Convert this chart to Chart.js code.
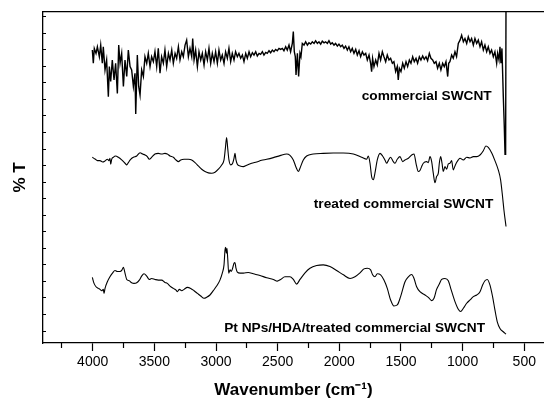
<!DOCTYPE html>
<html><head><meta charset="utf-8">
<script src="https://cdn.jsdelivr.net/npm/chart.js@4/dist/chart.umd.min.js"></script>
<style>html,body{margin:0;padding:0;background:#fff}canvas{display:block}</style>
</head><body>
<canvas id="c" width="544" height="402"></canvas>
<script>
const majorTicks = [500,1000,1500,2000,2500,3000,3500,4000];
const minorTicks = [750,1250,1750,2250,2750,3250,3750,4250];
const yTicks = [3.6,8.6,13.6,18.6,23.6,28.6,33.6,38.6,43.6,48.6,53.6,58.6,63.6,68.6,73.6,78.6,83.6,88.6,93.6,98.6];

const commercial = [[4003,88.5],[3995,84.5],[3987,89.0],[3973,87.5],[3962,89.5],[3946,86.5],[3935,90.0],[3922,84.5],[3914,89.5],[3900,82.5],[3887,85.5],[3873,74.4],[3865,83.5],[3854,79.0],[3841,85.5],[3827,79.5],[3814,84.5],[3800,75.4],[3789,90.0],[3778,84.5],[3765,87.5],[3751,77.5],[3738,85.5],[3724,80.5],[3711,88.5],[3697,83.5],[3684,82.5],[3670,77.5],[3657,81.5],[3651,69.2],[3638,87.0],[3627,77.5],[3616,74.9],[3603,82.5],[3589,80.5],[3576,86.5],[3562,84.5],[3549,87.5],[3535,83.5],[3522,86.5],[3508,85.0],[3495,88.0],[3481,83.5],[3468,89.0],[3454,81.5],[3441,86.5],[3427,84.5],[3414,88.5],[3400,83.5],[3386,87.5],[3373,85.5],[3359,88.5],[3346,84.5],[3332,87.5],[3319,86.0],[3305,89.5],[3292,85.5],[3278,88.0],[3265,86.5],[3251,90.0],[3238,91.5],[3224,86.5],[3211,89.0],[3197,86.5],[3189,92.0],[3178,85.5],[3165,88.5],[3151,83.5],[3138,88.0],[3124,85.5],[3111,87.5],[3097,84.0],[3084,88.0],[3070,85.5],[3057,89.0],[3043,84.5],[3030,87.5],[3016,85.0],[3003,88.0],[2989,84.5],[2976,88.5],[2962,85.5],[2949,87.0],[2935,84.5],[2922,88.0],[2908,86.0],[2895,89.0],[2881,85.0],[2868,87.5],[2854,85.5],[2841,88.0],[2827,86.5],[2814,87.5],[2800,86.0],[2786,87.0],[2773,85.0],[2759,87.5],[2746,86.0],[2732,88.0],[2719,86.5],[2705,87.7],[2692,87.0],[2678,88.0],[2665,86.7],[2651,87.5],[2638,87.2],[2624,88.0],[2611,87.0],[2597,87.8],[2584,87.5],[2570,88.3],[2557,87.7],[2543,88.5],[2530,88.0],[2516,88.7],[2503,88.3],[2489,89.0],[2476,88.7],[2462,89.0],[2449,88.3],[2435,89.5],[2422,88.5],[2408,90.0],[2395,88.0],[2381,90.5],[2373,94.1],[2365,88.0],[2357,86.5],[2351,81.0],[2340,87.5],[2330,80.5],[2319,87.5],[2311,86.5],[2300,90.5],[2286,90.0],[2273,91.0],[2259,90.0],[2246,90.7],[2232,90.3],[2219,91.0],[2205,90.5],[2192,91.3],[2178,90.5],[2165,91.0],[2151,90.3],[2138,91.2],[2124,90.7],[2111,91.0],[2097,90.5],[2084,91.3],[2070,90.3],[2057,90.7],[2043,90.0],[2030,90.5],[2016,89.7],[2003,90.3],[1989,89.5],[1976,90.0],[1962,89.0],[1949,89.7],[1935,88.5],[1922,89.5],[1908,88.0],[1895,89.0],[1881,87.5],[1867,88.7],[1854,87.0],[1840,88.3],[1827,86.5],[1813,88.0],[1800,87.0],[1786,87.5],[1773,85.5],[1759,87.0],[1746,84.5],[1738,82.0],[1730,86.0],[1719,83.5],[1705,85.5],[1692,84.0],[1678,87.5],[1665,85.5],[1651,88.0],[1638,86.5],[1624,85.0],[1611,87.0],[1597,85.5],[1584,86.0],[1570,84.5],[1557,85.0],[1543,82.0],[1530,83.5],[1522,79.5],[1513,83.0],[1500,82.0],[1486,84.5],[1473,83.0],[1459,85.0],[1446,83.5],[1432,85.5],[1419,84.5],[1405,86.5],[1392,85.0],[1378,86.0],[1365,84.5],[1351,86.5],[1338,85.5],[1324,86.7],[1311,85.7],[1297,86.5],[1284,85.3],[1270,87.5],[1257,86.0],[1243,85.5],[1230,84.5],[1216,85.0],[1203,83.0],[1189,84.5],[1176,82.5],[1162,84.5],[1149,83.5],[1135,85.0],[1121,80.5],[1113,84.5],[1103,85.0],[1089,87.0],[1076,86.0],[1062,88.0],[1049,86.5],[1035,90.5],[1021,91.5],[1008,93.0],[994,91.0],[981,92.0],[967,90.5],[954,92.5],[940,91.0],[927,92.0],[913,90.0],[900,92.0],[886,90.5],[873,91.5],[859,89.5],[846,91.0],[832,88.5],[819,90.0],[805,88.0],[792,89.5],[778,87.5],[765,88.5],[751,86.5],[738,88.0],[724,84.5],[716,87.5],[705,85.5],[697,89.5],[689,84.5],[681,89.0],[670,74.4],[662,65.4],[656,57.0],[654,65.5],[652,57.0],[650,64.0],[649,57.0],[648,105]];

const treated = [[4003,56.1],[3981,55.6],[3962,55.1],[3941,55.1],[3919,54.7],[3900,55.0],[3881,55.5],[3868,55.1],[3860,55.8],[3854,54.0],[3846,55.5],[3833,56.1],[3814,56.5],[3792,56.1],[3765,55.3],[3738,54.3],[3724,53.8],[3711,54.5],[3692,55.5],[3670,56.1],[3643,56.5],[3616,57.5],[3595,57.1],[3576,56.8],[3557,56.3],[3541,55.5],[3522,56.1],[3495,57.1],[3468,57.3],[3441,57.1],[3414,57.3],[3395,57.1],[3373,56.5],[3346,56.1],[3324,55.3],[3305,54.8],[3286,55.3],[3259,55.5],[3224,55.5],[3197,55.3],[3170,54.5],[3143,53.5],[3116,52.5],[3089,51.8],[3062,51.4],[3035,51.3],[3008,51.6],[2981,52.5],[2954,53.8],[2935,55.3],[2924,58.8],[2914,62.1],[2905,58.8],[2895,55.3],[2881,53.8],[2865,54.3],[2854,55.8],[2846,57.3],[2838,55.3],[2827,54.0],[2805,53.5],[2778,53.3],[2751,53.7],[2711,54.3],[2670,54.7],[2630,55.2],[2589,55.5],[2535,56.0],[2481,56.6],[2427,57.1],[2400,56.7],[2373,55.3],[2351,53.1],[2332,51.8],[2319,52.8],[2292,55.3],[2265,56.5],[2211,57.1],[2130,57.3],[2049,57.4],[1968,57.4],[1886,57.1],[1819,56.1],[1778,55.5],[1765,56.5],[1751,54.3],[1738,50.3],[1724,49.3],[1711,51.3],[1692,55.3],[1670,57.3],[1649,56.5],[1630,55.3],[1616,54.3],[1603,55.1],[1584,56.1],[1562,54.8],[1549,54.3],[1530,55.5],[1508,56.3],[1486,54.8],[1467,55.3],[1440,55.8],[1413,56.8],[1394,57.1],[1378,54.3],[1359,51.8],[1346,52.1],[1332,53.3],[1319,54.3],[1292,54.8],[1278,54.5],[1265,56.3],[1251,54.8],[1238,51.3],[1224,48.4],[1211,50.3],[1197,51.3],[1189,54.3],[1178,56.3],[1167,54.3],[1157,51.8],[1143,53.3],[1130,52.5],[1116,54.1],[1103,54.3],[1089,55.1],[1076,52.3],[1062,53.5],[1049,54.5],[1035,55.3],[1021,55.8],[994,55.3],[967,56.1],[940,55.9],[913,56.3],[886,56.3],[859,56.8],[832,58.1],[811,59.5],[792,59.1],[765,57.5],[738,55.1],[711,52.3],[692,49.3],[676,44.2],[665,40.2],[648,35.2]];

const ptTreated = [[4003,19.8],[3989,18.0],[3973,17.0],[3954,16.5],[3941,16.2],[3927,15.8],[3914,16.2],[3908,15.0],[3900,16.5],[3881,18.5],[3860,20.0],[3838,21.2],[3819,21.9],[3800,21.6],[3778,21.6],[3762,22.1],[3751,22.9],[3738,21.1],[3724,19.2],[3703,18.8],[3684,18.2],[3665,18.0],[3643,18.2],[3622,19.0],[3603,20.2],[3584,20.9],[3562,20.2],[3541,19.2],[3522,19.5],[3495,19.2],[3468,19.0],[3441,19.0],[3414,18.3],[3395,18.0],[3373,17.2],[3346,16.5],[3324,16.0],[3314,15.5],[3297,16.2],[3278,15.8],[3259,16.2],[3232,16.8],[3205,16.5],[3178,15.8],[3151,15.0],[3124,14.2],[3097,13.5],[3076,13.8],[3049,14.5],[3022,15.8],[2995,17.2],[2968,19.0],[2949,21.1],[2935,23.6],[2927,28.1],[2922,28.9],[2916,27.1],[2911,28.6],[2905,25.6],[2897,21.1],[2886,22.1],[2876,21.6],[2865,22.6],[2854,24.1],[2846,24.3],[2838,22.6],[2827,21.4],[2805,21.1],[2778,21.1],[2738,21.3],[2697,20.9],[2643,20.4],[2589,19.7],[2535,19.2],[2503,18.7],[2476,19.2],[2441,20.0],[2400,20.0],[2373,19.2],[2346,17.8],[2319,19.2],[2278,21.2],[2238,22.6],[2184,23.4],[2130,23.6],[2076,23.1],[2022,21.9],[1967,20.6],[1913,19.5],[1873,20.0],[1832,21.2],[1800,22.4],[1773,22.6],[1746,22.1],[1730,20.6],[1711,20.0],[1692,20.9],[1665,20.6],[1638,19.0],[1611,16.5],[1584,13.0],[1557,11.2],[1530,11.5],[1503,14.0],[1467,18.5],[1440,20.0],[1413,20.7],[1394,19.5],[1373,17.0],[1346,15.5],[1305,14.5],[1278,13.8],[1251,12.8],[1232,13.5],[1211,16.2],[1189,17.8],[1170,19.2],[1143,19.5],[1116,18.8],[1094,16.2],[1062,12.5],[1035,10.2],[1016,9.5],[994,10.5],[967,12.0],[940,13.0],[913,14.0],[886,14.5],[859,15.5],[838,17.5],[819,18.8],[800,19.2],[778,17.5],[757,14.0],[738,10.0],[719,6.4],[697,4.4],[670,3.4],[648,2.7]];

const seriesNames = ['commercial SWCNT','treated commercial SWCNT','Pt NPs/HDA/treated commercial SWCNT'];
const labelWn = [764, 751, 818];
const labelT = [74.6, 42.0, 4.5];

const FONT = "'Liberation Sans', Arial, Helvetica, sans-serif";
Chart.defaults.font.family = FONT;
Chart.defaults.color = '#000';

const toPts = a => a.map(p => ({x: p[0], y: p[1]}));
const X_MIN = 340, X_MAX = 4403;

const annot = {
  id: 'annot',
  afterDatasetsDraw(chart) {
    const {ctx, scales: {x, y}} = chart;
    ctx.save();
    ctx.font = "bold 13.7px " + FONT;
    ctx.fillStyle = '#000';
    ctx.textAlign = 'right';
    ctx.textBaseline = 'middle';
    seriesNames.forEach((t, i) => ctx.fillText(t, x.getPixelForValue(labelWn[i]), y.getPixelForValue(labelT[i])));
    ctx.restore();
  }
};

const lineDs = (name, arr, smooth) => ({
  label: name, data: toPts(arr), borderColor: '#000', borderWidth: smooth ? 1.1 : 1.4,
  pointRadius: 0, fill: false, tension: 0,
  cubicInterpolationMode: smooth ? 'monotone' : 'default'
});

new Chart(document.getElementById('c'), {
  type: 'line',
  data: { datasets: [
    lineDs(seriesNames[0], commercial, false),
    lineDs(seriesNames[1], treated, true),
    lineDs(seriesNames[2], ptTreated, true)
  ]},
  options: {
    responsive: false, animation: false, devicePixelRatio: 1,
    layout: { padding: { top: 12, left: 0, right: 0, bottom: 0 } },
    plugins: { legend: { display: false }, tooltip: { enabled: false } },
    scales: {
      x: {
        type: 'linear', position: 'bottom', weight: 1, min: X_MIN, max: X_MAX, reverse: true,
        afterBuildTicks: s => { s.ticks = majorTicks.map(v => ({value: v})); },
        afterFit: s => { s.height = 59; },
        ticks: { autoSkip: false, maxRotation: 0, padding: 3, font: { size: 14 }, color: '#000', callback: v => String(v) },
        grid: { drawOnChartArea: false, color: '#000', tickLength: 8, tickWidth: 1.2 },
        border: { color: '#000', width: 1.3 },
        title: { display: true, text: 'Wavenumber (cm\u207B\u00B9)', color: '#000', font: { size: 17, weight: 'bold', lineHeight: 1 }, padding: { top: 0, bottom: 3 } }
      },
      xm: {
        type: 'linear', position: 'bottom', weight: 0, min: X_MIN, max: X_MAX, reverse: true,
        afterBuildTicks: s => { s.ticks = minorTicks.map(v => ({value: v})); },
        afterFit: s => { s.height = 0; },
        ticks: { display: false },
        grid: { drawOnChartArea: false, color: '#000', tickLength: 5, tickWidth: 1.2 },
        border: { display: false }
      },
      xt: {
        type: 'linear', position: 'top', min: X_MIN, max: X_MAX, reverse: true,
        afterFit: s => { s.height = 0; },
        ticks: { display: false },
        grid: { drawOnChartArea: false, drawTicks: false },
        border: { display: true, color: '#000', width: 1.3 }
      },
      y: {
        type: 'linear', position: 'left', min: 0, max: 100,
        afterBuildTicks: s => { s.ticks = yTicks.map(v => ({value: v})); },
        afterFit: s => { s.width = 43; },
        ticks: { display: false },
        grid: { drawOnChartArea: false, color: '#000', tickLength: -3, tickWidth: 1 },
        border: { color: '#000', width: 1.3 },
        title: { display: true, text: '% T', color: '#000', font: { size: 17, weight: 'bold', lineHeight: 1 }, padding: { top: 12, bottom: 0 } }
      }
    }
  },
  plugins: [annot]
});
</script>
</body></html>
